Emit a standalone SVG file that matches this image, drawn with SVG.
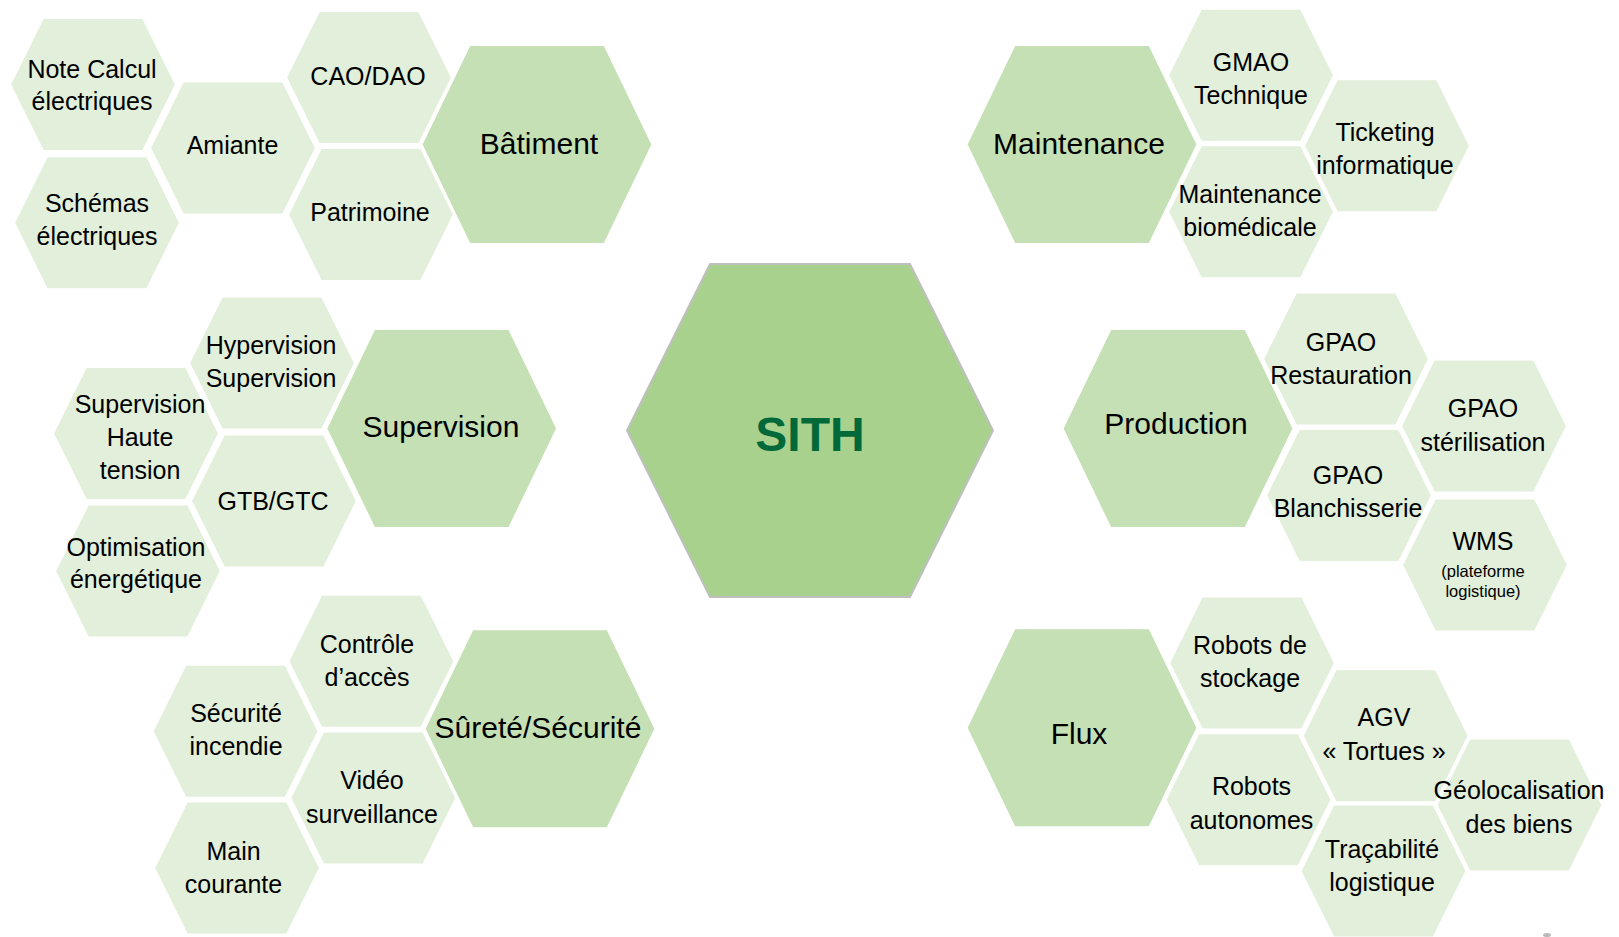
<svg xmlns="http://www.w3.org/2000/svg" xmlns:xlink="http://www.w3.org/1999/xlink" width="1619" height="937" viewBox="0 0 1619 937">
<style>
.leaf{fill:#e2efda;stroke:#ffffff;stroke-width:2}
.cat{fill:#c5e0b4;stroke:#ffffff;stroke-width:2}
.center{fill:#a9d18e;stroke:#bfbfbf;stroke-width:2}
text{font-family:"Liberation Sans",Arial,sans-serif;text-anchor:middle;fill:#000000}
.t{font-size:25px}
.c{font-size:30px}
.s{font-size:16.5px}
.sith{font-size:48px;font-weight:bold;fill:#00693a}
</style>
<defs>
<polygon id="leafHex" points="-83,0 -50,-66.5 50,-66.5 83,0 50,66.5 -50,66.5"/>
<polygon id="catHex" points="-115.5,0 -67.5,-99.5 67.5,-99.5 115.5,0 67.5,99.5 -67.5,99.5"/>
</defs>
<rect width="1619" height="937" fill="#ffffff"/>
<g id="connectors"></g>

<g id="sith">
<polygon class="center" points="627,430.5 710,264 910,264 993,430.5 910,597 710,597"/>
<text class="sith" x="810" y="451">SITH</text>
</g>

<!-- Bâtiment -->
<g id="batiment"><use href="#catHex" class="cat" x="537" y="144.5"/><text class="c" x="539" y="154">Bâtiment</text></g>
<g id="note-calcul"><use href="#leafHex" class="leaf" x="93" y="84.5"/><text class="t" x="92" y="78">Note Calcul</text><text class="t" x="92" y="110">électriques</text></g>
<g id="schemas"><use href="#leafHex" class="leaf" x="97" y="222.7"/><text class="t" x="97" y="211.5">Schémas</text><text class="t" x="97" y="244.5">électriques</text></g>
<g id="amiante"><use href="#leafHex" class="leaf" x="233" y="148"/><text class="t" x="232.5" y="154">Amiante</text></g>
<g id="cao-dao"><use href="#leafHex" class="leaf" x="369" y="77.5"/><text class="t" x="368" y="85">CAO/DAO</text></g>
<g id="patrimoine"><use href="#leafHex" class="leaf" x="371" y="214.5"/><text class="t" x="370" y="220.5">Patrimoine</text></g>

<!-- Supervision -->
<g id="supervision"><use href="#catHex" class="cat" x="441.7" y="428.5"/><text class="c" x="441" y="436.5">Supervision</text></g>
<g id="hypervision"><use href="#leafHex" class="leaf" x="272" y="363"/><text class="t" x="271" y="354">Hypervision</text><text class="t" x="271" y="387">Supervision</text></g>
<g id="sup-ht"><use href="#leafHex" class="leaf" x="136" y="433.5"/><text class="t" x="140" y="413">Supervision</text><text class="t" x="140" y="445.5">Haute</text><text class="t" x="140" y="479">tension</text></g>
<g id="gtb-gtc"><use href="#leafHex" class="leaf" x="274" y="501"/><text class="t" x="273" y="510">GTB/GTC</text></g>
<g id="optimisation"><use href="#leafHex" class="leaf" x="138" y="571"/><text class="t" x="136" y="556">Optimisation</text><text class="t" x="136" y="588">énergétique</text></g>

<!-- Sûreté/Sécurité -->
<g id="surete"><use href="#catHex" class="cat" x="540" y="728.8"/><text class="c" x="538" y="738">Sûreté/Sécurité</text></g>
<g id="controle"><use href="#leafHex" class="leaf" x="371.4" y="661.3"/><text class="t" x="367" y="653">Contrôle</text><text class="t" x="367" y="686">d’accès</text></g>
<g id="securite-incendie"><use href="#leafHex" class="leaf" x="235.5" y="731.3"/><text class="t" x="236" y="721.5">Sécurité</text><text class="t" x="236" y="755">incendie</text></g>
<g id="video"><use href="#leafHex" class="leaf" x="373.3" y="798"/><text class="t" x="372" y="789">Vidéo</text><text class="t" x="372" y="822.5">surveillance</text></g>
<g id="main-courante"><use href="#leafHex" class="leaf" x="237" y="868"/><text class="t" x="233.5" y="860">Main</text><text class="t" x="233.5" y="893">courante</text></g>

<!-- Maintenance -->
<g id="maintenance"><use href="#catHex" class="cat" x="1082" y="144.5"/><text class="c" x="1079" y="154">Maintenance</text></g>
<g id="gmao"><use href="#leafHex" class="leaf" x="1251" y="75.3"/><text class="t" x="1251" y="70.5">GMAO</text><text class="t" x="1251" y="104">Technique</text></g>
<g id="ticketing"><use href="#leafHex" class="leaf" x="1387" y="145.7"/><text class="t" x="1385" y="140.5">Ticketing</text><text class="t" x="1385" y="174">informatique</text></g>
<g id="maint-bio"><use href="#leafHex" class="leaf" x="1251" y="211.8"/><text class="t" x="1250" y="203">Maintenance</text><text class="t" x="1250" y="236">biomédicale</text></g>

<!-- Production -->
<g id="production"><use href="#catHex" class="cat" x="1178" y="428.5"/><text class="c" x="1176" y="434">Production</text></g>
<g id="gpao-rest"><use href="#leafHex" class="leaf" x="1346" y="359"/><text class="t" x="1341" y="350.5">GPAO</text><text class="t" x="1341" y="384">Restauration</text></g>
<g id="gpao-ster"><use href="#leafHex" class="leaf" x="1484" y="426"/><text class="t" x="1483" y="417">GPAO</text><text class="t" x="1483" y="451">stérilisation</text></g>
<g id="gpao-blanch"><use href="#leafHex" class="leaf" x="1349" y="495.5"/><text class="t" x="1348" y="484">GPAO</text><text class="t" x="1348" y="517">Blanchisserie</text></g>
<g id="wms"><use href="#leafHex" class="leaf" x="1485" y="565"/><text class="t" x="1483" y="550">WMS</text><text class="s" x="1483" y="576.5">(plateforme</text><text class="s" x="1483" y="597">logistique)</text></g>

<!-- Flux -->
<g id="flux"><use href="#catHex" class="cat" x="1082" y="727.8"/><text class="c" x="1079" y="744">Flux</text></g>
<g id="robots-stockage"><use href="#leafHex" class="leaf" x="1252" y="663"/><text class="t" x="1250" y="654">Robots de</text><text class="t" x="1250" y="686.5">stockage</text></g>
<g id="agv"><use href="#leafHex" class="leaf" x="1385.7" y="735.7"/><text class="t" x="1384" y="726">AGV</text><text class="t" x="1384" y="760">« Tortues »</text></g>
<g id="robots-autonomes"><use href="#leafHex" class="leaf" x="1248.5" y="799.7"/><text class="t" x="1251.5" y="795">Robots</text><text class="t" x="1251.5" y="829">autonomes</text></g>
<g id="geoloc"><use href="#leafHex" class="leaf" x="1519.5" y="805"/><text class="t" x="1519" y="799">Géolocalisation</text><text class="t" x="1519" y="833">des biens</text></g>
<g id="tracabilite"><use href="#leafHex" class="leaf" x="1383.5" y="871"/><text class="t" x="1382" y="858">Traçabilité</text><text class="t" x="1382" y="891">logistique</text></g>

<ellipse cx="1547" cy="935" rx="4" ry="2" fill="#8c8c8c" opacity="0.6"/>
</svg>
